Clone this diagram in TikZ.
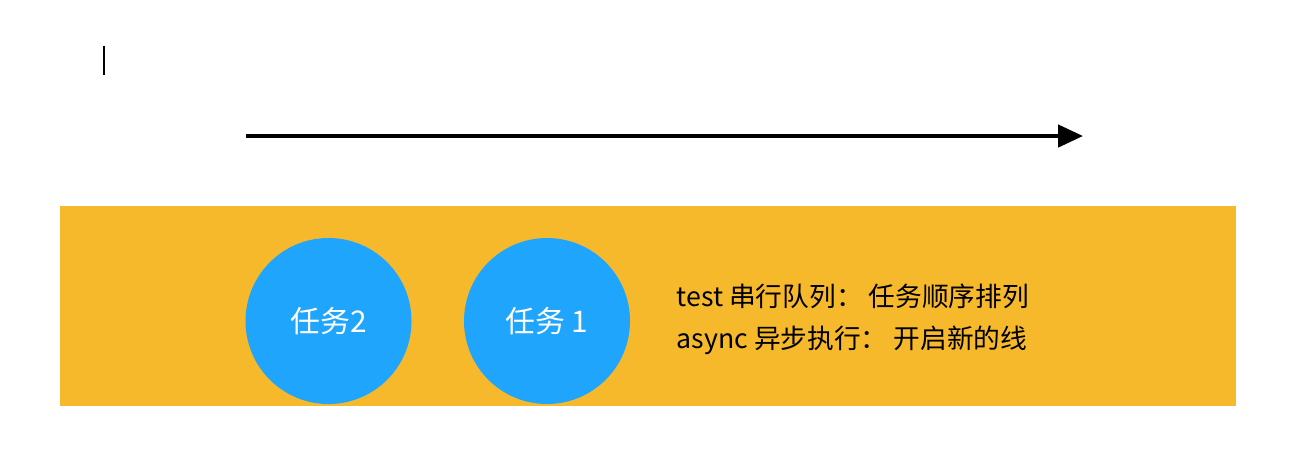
\documentclass[tikz,border=0pt]{standalone}
\usepackage{fontspec}
\setmainfont{Noto Sans CJK SC}
\usetikzlibrary{arrows.meta}
\definecolor{queuebg}{HTML}{F6B92C}
\definecolor{taskblue}{HTML}{1FA5FC}
\begin{document}
\begin{tikzpicture}[
  queue/.style={fill=queuebg,minimum width=11.76cm,minimum height=2cm,inner sep=0pt},
  task/.style={circle,fill=taskblue,minimum size=1.66cm,inner sep=0pt,text=white,font=\fontsize{8.5pt}{10pt}\selectfont},
  note/.style={align=left,anchor=west,inner sep=0pt,font=\fontsize{7.6pt}{11.95pt}\selectfont},
  timeline/.style={line width=1.15pt,-{Triangle[length=7.1pt,width=6.3pt]}}
]
\useasboundingbox (0,0) rectangle (13.06,-4.52);
% cursor mark
\draw[line width=0.55pt] (1.04,-0.46) -- (1.04,-0.75);
\coordinate (start) at (2.46,-1.36);
\coordinate (end) at (10.83,-1.36);
\draw[timeline] (start) -- (end);
\node[queue] (queue) at (6.48,-3.06) {};
\node[task] (task2) at (3.285,-3.21) {任务2};
\node[task] (task1) at (5.47,-3.21) {任务 1};
\node[note] (desc) at (6.76,-3.19) {test 串行队列： 任务顺序排列\\async 异步执行： 开启新的线};
\end{tikzpicture}
\end{document}
